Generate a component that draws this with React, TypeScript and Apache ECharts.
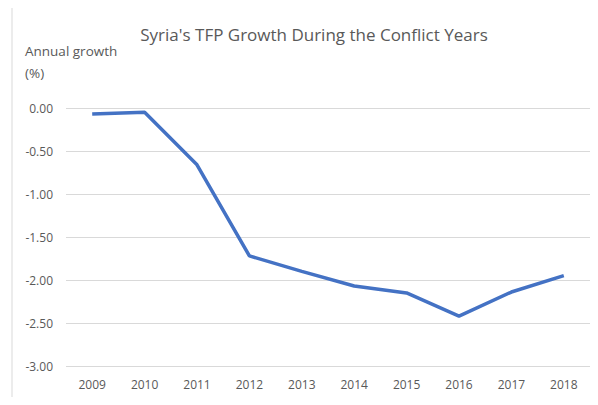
import React, { useEffect, useRef } from "react";
import * as echarts from "echarts";

const years = ["2009", "2010", "2011", "2012", "2013", "2014", "2015", "2016", "2017", "2018"];
const tfpGrowth = [-0.07, -0.05, -0.66, -1.72, -1.9, -2.07, -2.15, -2.42, -2.14, -1.95];
const titleText = "Syria's TFP Growth During the Conflict Years";
const yAxisName = "Annual growth\n(%)";

export default function App() {
  const ref = useRef<HTMLDivElement>(null);
  useEffect(() => {
    if (!ref.current) return;
    const chart = echarts.init(ref.current, null, { renderer: "svg" });
    const font = "Open Sans, Noto Sans, sans-serif";
    chart.setOption({
      animation: false,
      backgroundColor: "#ffffff",
      title: {
        text: titleText,
        left: 309,
        textAlign: "center",
        top: 21,
        textStyle: { color: "#595959", fontSize: 17, fontWeight: "normal", fontFamily: font },
      },
      graphic: [
        {
          type: "rect",
          shape: { x: 12, y: 6, width: 580, height: 420 },
          style: { fill: "none", stroke: "#d9d9d9", lineWidth: 1 },
          silent: true,
        },
        {
          type: "text",
          left: 25,
          top: 40,
          style: { text: yAxisName, fill: "#595959", fontSize: 13.5, fontFamily: font, lineHeight: 22 },
        },
      ],
      grid: { left: 66, right: 8, top: 108, bottom: 39, containLabel: false },
      xAxis: {
        type: "category",
        data: years,
        boundaryGap: true,
        axisLine: { show: false },
        axisTick: { show: false },
        axisLabel: { color: "#595959", fontSize: 12, fontFamily: font, margin: 12 },
      },
      yAxis: {
        type: "value",
        min: -3,
        max: 0,
        interval: 0.5,
        axisLine: { show: false },
        axisTick: { show: false },
        axisLabel: {
          color: "#595959",
          fontSize: 12,
          fontFamily: font,
          margin: 13,
          formatter: (v: number) => v.toFixed(2),
        },
        splitLine: { lineStyle: { color: "#d9d9d9", width: 1 } },
      },
      series: [
        {
          type: "line",
          data: tfpGrowth,
          symbol: "none",
          lineStyle: { color: "#4472C4", width: 3.5 },
        },
      ],
    });
    return () => chart.dispose();
  }, []);
  return <div ref={ref} style={{ width: 598, height: 405, margin: -8 }} />;
}
